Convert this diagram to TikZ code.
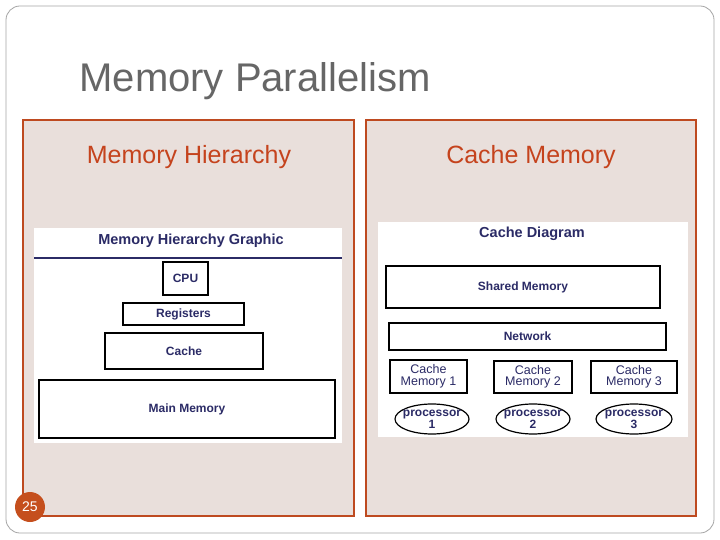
\documentclass[tikz,border=0pt]{standalone}
\usepackage{fontspec}
\setsansfont{Liberation Sans}
\usetikzlibrary{shapes.geometric}
\definecolor{panel}{HTML}{E9DFDB}
\definecolor{rust}{HTML}{BE4A20}
\definecolor{navy}{HTML}{2B2B66}
\begin{document}
\begin{tikzpicture}[x=1pt,y=-1pt,
  box/.style={draw=black,line width=1.2pt,fill=white,inner sep=0pt,font=\sffamily\bfseries\fontsize{12}{12}\selectfont,text=navy,align=center},
  cbox/.style={box,font=\sffamily\fontsize{12.5}{11.5}\selectfont},
  proc/.style={draw=black,line width=1.2pt,ellipse,fill=white,inner sep=0pt,minimum width=74pt,minimum height=30pt},
  ptext/.style={inner sep=0pt,font=\sffamily\bfseries\fontsize{12}{10.5}\selectfont,text=navy,align=center},
  panelbox/.style={draw=rust,line width=1.2pt,fill=panel},
  sub/.style={font=\sffamily\fontsize{25}{25}\selectfont,text=rust!90!red}]
\useasboundingbox (0,0) rectangle (720,540);
\fill[white] (0,0) rectangle (720,540);
\draw[gray!70,line width=0.8pt,rounded corners=14pt] (6,6) rectangle (714,533);
\node[anchor=west,font=\sffamily\fontsize{40}{40}\selectfont,text=black!60] (title) at (76,81) {Memory Parallelism};
\draw[panelbox] (23,120) rectangle (354,516);
\draw[panelbox] (366,120) rectangle (696,516);
\node[sub] (lh) at (189,157) {Memory Hierarchy};
\node[sub] (rh) at (531,157) {Cache Memory};
\node[circle,fill=rust!90!orange,minimum size=30pt,inner sep=0pt,font=\sffamily\fontsize{14}{14}\selectfont,text=white] (pg) at (30,507) {25};
% left graphic
\fill[white] (34,228) rectangle (342,443);
\node[font=\sffamily\bfseries\fontsize{14.5}{14}\selectfont,text=navy] (lt) at (191,241) {Memory Hierarchy Graphic};
\draw[navy,line width=1.5pt] (34,258) -- (342,258);
\node[box,minimum width=45pt,minimum height=33pt] (cpu) at (185.5,278.5) {CPU};
\node[box,minimum width=121pt,minimum height=22pt] (reg) at (183.5,314) {Registers};
\node[box,minimum width=158pt,minimum height=36pt] (cache) at (184,351) {Cache};
\node[box,minimum width=296pt,minimum height=58pt] (main) at (187,409) {Main Memory};
% right graphic
\fill[white] (378,222) rectangle (688,437);
\begin{scope}
\clip (378,222) rectangle (688,437);
\node[font=\sffamily\bfseries\fontsize{14.5}{14}\selectfont,text=navy] (rt) at (532,234) {Cache Diagram};
\node[box,minimum width=274pt,minimum height=42pt] (sm) at (523,287) {Shared Memory};
\node[box,minimum width=277pt,minimum height=27pt] (net) at (527.5,336.5) {Network};
\node[cbox,minimum width=77pt,minimum height=33pt] (c1) at (428.5,376.5) {Cache\\Memory 1};
\node[cbox,minimum width=78pt,minimum height=32pt] (c2) at (533,377) {Cache\\Memory 2};
\node[cbox,minimum width=86pt,minimum height=32pt] (c3) at (634,377) {Cache\\Memory 3};
\node[proc] (p1) at (432,419) {};
\node[proc] (p2) at (533,419) {};
\node[proc,minimum width=76pt] (p3) at (634,419) {};
\node[ptext] (t1) at (p1) {processor\\1};
\node[ptext] (t2) at (p2) {processor\\2};
\node[ptext] (t3) at (p3) {processor\\3};
\end{scope}
\end{tikzpicture}
\end{document}
